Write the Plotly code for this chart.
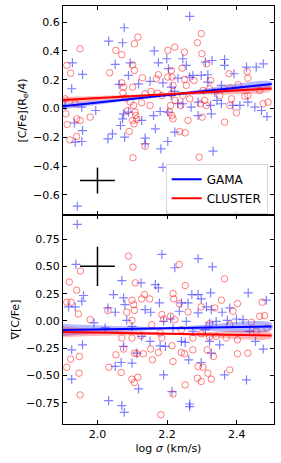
import plotly.graph_objects as go
from plotly.subplots import make_subplots

# ---------------- data ----------------
top_gama_x = [2.077, 2.032, 2.072, 2.051, 2.163, 2.199, 1.928, 1.957, 1.926, 2.094, 2.089, 2.062, 2.118, 2.151,
              2.175, 2.188, 2.204, 1.907, 1.955, 1.995, 2.075, 2.072, 2.066, 2.089, 2.127, 2.161, 2.180, 2.202,
              2.166, 1.934, 1.957, 1.936, 1.955, 2.030, 2.043, 2.078, 2.137, 2.137, 2.182, 2.202, 2.188, 1.942,
              2.265, 2.245, 2.310, 2.329, 2.365, 2.365, 2.428, 2.456, 2.476, 2.255, 2.274, 2.298, 2.317, 2.392,
              2.231, 2.265, 2.317, 2.356, 2.212, 2.222, 2.337, 2.231, 2.245, 2.289, 2.343, 2.212, 2.269, 2.325,
              2.389, 2.409, 2.432, 2.356, 2.289, 2.327, 2.452, 2.471, 2.487, 2.222, 2.332]
top_gama_y = [0.560, 0.467, 0.456, 0.306, 0.400, 0.345, 0.317, 0.236, 0.137, 0.317, 0.229, 0.167, 0.171, 0.188,
              0.317, 0.178, 0.276, 0.021, 0.009, -0.014, -0.037, -0.072, -0.118, -0.025, -0.083, -0.049, -0.021, -0.025,
              -0.141, -0.100, -0.153, -0.234, -0.229, -0.211, -0.176, -0.199, -0.206, -0.245, -0.280, -0.229, -0.408, -0.678,
              0.639, 0.345, 0.322, 0.333, 0.340, 0.299, 0.287, 0.287, 0.310, 0.299, 0.229, 0.229, 0.234, 0.241,
              0.210, 0.218, 0.183, 0.160, 0.148, 0.118, 0.109, 0.033, 0.033, 0.044, 0.056, 0.090, 0.009, 0.021,
              0.021, 0.021, 0.044, 0.033, -0.049, -0.037, 0.009, -0.014, -0.056, -0.164, -0.296]

top_clus_x = [2.116, 2.106, 1.950, 2.053, 2.070, 1.912, 1.923, 2.035, 2.101, 2.106, 2.129, 2.175, 2.169, 2.202,
              2.202, 2.070, 2.075, 2.101, 2.073, 2.137, 2.154, 2.173, 2.185, 1.907, 1.936, 2.082, 2.094, 2.104,
              2.127, 2.151, 2.087, 2.108, 2.110, 2.113, 2.101, 2.105, 1.909, 1.940, 1.950, 1.979, 1.913, 1.921,
              1.940, 2.091, 2.137, 2.102,
              2.298, 2.287, 2.222, 2.250, 2.300, 2.313, 2.243, 2.212, 2.430, 2.378, 2.432, 2.214, 2.250, 2.277,
              2.325, 2.404, 2.217, 2.255, 2.380, 2.466, 2.212, 2.245, 2.303, 2.322, 2.351, 2.432, 2.223, 2.265,
              2.308, 2.385, 2.423, 2.210, 2.239, 2.296, 2.313, 2.380, 2.399, 2.490, 2.476, 2.207, 2.214, 2.217,
              2.260, 2.301, 2.365, 2.236, 2.252, 2.292]
top_clus_y = [0.495, 0.449, 0.414, 0.403, 0.373, 0.299, 0.245, 0.248, 0.303, 0.264, 0.213, 0.234, 0.206, 0.403,
              0.218, 0.178, 0.148, 0.148, 0.109, 0.102, 0.118, 0.106, 0.090, 0.067, 0.033, 0.072, 0.044, 0.021,
              0.040, 0.021, -0.014, -0.025, -0.049, -0.076, -0.083, -0.107, -0.037, -0.072, -0.083, -0.060, -0.111, -0.218,
              -0.194, -0.160, -0.262, -0.342,
              0.519, 0.456, 0.426, 0.391, 0.380, 0.310, 0.280, 0.264, 0.257, 0.241, 0.210, 0.218, 0.201, 0.194,
              0.194, 0.165, 0.160, 0.160, 0.144, 0.125, 0.102, 0.090, 0.125, 0.137, 0.090, 0.090, 0.056, 0.067,
              0.056, 0.067, 0.085, 0.021, 0.021, 0.033, 0.021, 0.021, -0.030, 0.044, 0.033, -0.025, -0.049, -0.072,
              -0.083, -0.060, -0.095, -0.160, -0.169, -0.338]

bot_gama_x = [1.942, 1.938, 2.185, 2.070, 2.125, 2.166, 2.175, 2.046, 1.960, 2.075, 1.955, 1.917, 1.936, 2.030,
              2.051, 2.079, 2.137, 2.178, 2.153, 2.084, 1.990, 2.022, 2.099, 2.127, 2.190, 2.151, 2.180, 2.195,
              1.926, 1.957, 2.075, 2.113, 2.068, 2.099, 2.051, 1.926, 2.190, 2.118, 2.032, 2.070, 2.077,
              2.289, 2.222, 2.330, 2.433, 2.485, 2.271, 2.289, 2.298, 2.325, 2.241, 2.260, 2.313, 2.327, 2.380,
              2.235, 2.289, 2.358, 2.399, 2.418, 2.210, 2.255, 2.322, 2.341, 2.373, 2.217, 2.274, 2.310, 2.241,
              2.252, 2.322, 2.351, 2.454, 2.476, 2.437, 2.262, 2.327, 2.298, 2.365, 2.428, 2.214, 2.265, 2.265]
bot_gama_y = [0.885, 0.518, 0.610, 0.370, 0.349, 0.333, 0.303, 0.242, 0.233, 0.211, 0.181, 0.129, 0.129, 0.119,
              0.080, 0.150, 0.104, 0.165, 0.080, 0.006, -0.018, -0.064, -0.049, -0.141, -0.003, -0.187, -0.227, -0.233,
              -0.264, -0.218, -0.233, -0.294, -0.380, -0.386, -0.416, -0.533, -0.493, -0.622, -0.729, -0.775, -0.836,
              0.570, 0.487, 0.496, 0.257, 0.190, 0.242, 0.242, 0.202, 0.257, 0.165, 0.165, 0.129, 0.104, 0.119,
              0.089, 0.074, 0.080, 0.018, 0.012, 0.018, -0.003, -0.018, -0.003, 0.006, -0.064, -0.095, -0.080, -0.187,
              -0.196, -0.187, -0.218, -0.187, -0.257, -0.095, -0.356, -0.294, -0.380, -0.493, -0.539, -0.646, -0.760, -0.784]

bot_clus_x = [2.089, 2.102, 1.951, 1.919, 2.109, 1.940, 2.135, 2.127, 2.150, 2.099, 1.912, 1.924, 2.104, 2.084,
              2.106, 2.030, 1.945, 1.979, 2.099, 2.156, 2.185, 2.190, 2.180, 2.185, 2.070, 2.099, 2.125, 2.075,
              2.106, 2.113, 2.132, 2.153, 2.158, 2.175, 2.053, 1.948, 1.923, 1.912, 2.033, 2.068, 1.947, 2.116,
              2.099, 2.106, 1.950, 2.182,
              2.235, 2.365, 2.252, 2.217, 2.356, 2.219, 2.402, 2.473, 2.235, 2.298, 2.337, 2.260, 2.389, 2.466,
              2.480, 2.442, 2.487, 2.210, 2.222, 2.322, 2.380, 2.241, 2.298, 2.322, 2.341, 2.370, 2.402, 2.456,
              2.274, 2.214, 2.241, 2.274, 2.315, 2.333, 2.402, 2.432, 2.250, 2.217, 2.289, 2.303, 2.380, 2.317,
              2.287, 2.298, 2.327, 2.252, 2.217]
bot_clus_y = [0.594, 0.493, 0.457, 0.356, 0.349, 0.282, 0.242, 0.202, 0.202, 0.190, 0.172, 0.172, 0.150, 0.080,
              0.098, 0.095, 0.064, 0.012, 0.006, -0.034, 0.058, 0.018, -0.110, -0.156, -0.156, -0.156, -0.135, -0.257,
              -0.294, -0.300, -0.300, -0.257, -0.356, -0.288, -0.310, -0.325, -0.349, -0.423, -0.423, -0.472, -0.478, -0.515,
              -0.533, -0.564, -0.677, -0.858,
              0.518, 0.386, 0.324, 0.251, 0.190, 0.202, 0.159, 0.172, 0.159, 0.129, 0.119, 0.083, 0.089, 0.043,
              0.049, -0.012, -0.064, 0.043, 0.012, -0.025, -0.034, -0.080, -0.117, -0.147, -0.141, -0.156, -0.172, -0.095,
              -0.156, -0.227, -0.288, -0.264, -0.264, -0.325, -0.300, -0.294, -0.300, -0.371, -0.416, -0.423, -0.448, -0.478,
              -0.524, -0.554, -0.533, -0.585, -0.668]

# linear fits (value at the fit x points) and confidence half-widths
fit_x = [1.90, 2.20, 2.50]
top_gama_fit = [0.015, 0.092, 0.170]
top_gama_err = [0.020, 0.008, 0.015]
top_clus_fit = [0.058, 0.098, 0.138]
top_clus_err = [0.022, 0.008, 0.014]
bot_gama_fit = [-0.082, -0.066, -0.050]
bot_gama_err = [0.055, 0.012, 0.030]
bot_clus_fit = [-0.101, -0.117, -0.133]
bot_clus_err = [0.048, 0.010, 0.022]

# typical error crosses: x, y, err_x, err_y
top_cross = [2.0, -0.5, 0.05, 0.09]
bot_cross = [2.0, 0.5, 0.05, 0.18]

BLUE = "#0000ff"
RED = "#ff0000"
BLUE_PT = "rgba(0,0,255,0.5)"
RED_PT = "rgba(255,0,0,0.5)"
BLUE_BAND = "rgba(0,0,255,0.28)"
RED_BAND = "rgba(255,0,0,0.28)"

fig = make_subplots(rows=2, cols=1, shared_xaxes=True, vertical_spacing=0.0)


def add_panel(row, gx, gy, cx, cy, gfit, gerr, cfit, cerr, cross, legend):
    fig.add_trace(go.Scatter(x=gx, y=gy, mode="markers", showlegend=False,
                             marker=dict(symbol="cross-thin-open", size=6.5, color=BLUE_PT,
                                         line=dict(width=1.2, color=BLUE_PT))), row=row, col=1)
    fig.add_trace(go.Scatter(x=cx, y=cy, mode="markers", showlegend=False,
                             marker=dict(symbol="circle-open", size=6.5, color=RED_PT,
                                         line=dict(width=1, color=RED_PT))), row=row, col=1)
    for fit, err, band in ((gfit, gerr, BLUE_BAND), (cfit, cerr, RED_BAND)):
        up = [f + e for f, e in zip(fit, err)]
        lo = [f - e for f, e in zip(fit, err)]
        fig.add_trace(go.Scatter(x=fit_x + fit_x[::-1], y=up + lo[::-1], mode="lines",
                                 fill="toself", fillcolor=band, line=dict(width=0),
                                 line_shape="spline", showlegend=False, hoverinfo="skip"),
                      row=row, col=1)
    fig.add_trace(go.Scatter(x=fit_x, y=gfit, mode="lines", name="GAMA",
                             line=dict(color=BLUE, width=2), showlegend=legend), row=row, col=1)
    fig.add_trace(go.Scatter(x=fit_x, y=cfit, mode="lines", name="CLUSTER",
                             line=dict(color=RED, width=2), showlegend=legend), row=row, col=1)
    fig.add_trace(go.Scatter(x=[cross[0]], y=[cross[1]], mode="markers", showlegend=False,
                             marker=dict(size=1, color="black"),
                             error_x=dict(type="data", array=[cross[2]], width=0, thickness=1.5, color="black"),
                             error_y=dict(type="data", array=[cross[3]], width=0, thickness=1.5, color="black")),
                  row=row, col=1)


add_panel(1, top_gama_x, top_gama_y, top_clus_x, top_clus_y, top_gama_fit, top_gama_err,
          top_clus_fit, top_clus_err, top_cross, True)
add_panel(2, bot_gama_x, bot_gama_y, bot_clus_x, bot_clus_y, bot_gama_fit, bot_gama_err,
          bot_clus_fit, bot_clus_err, bot_cross, False)

axis_common = dict(showline=True, linecolor="black", linewidth=1, mirror="ticks", ticks="inside",
                   ticklen=4, tickcolor="black", showgrid=False, zeroline=False,
                   tickfont=dict(size=11, color="black"))

fig.update_xaxes(**axis_common, range=[1.901, 2.507], tickvals=[2.0, 2.2, 2.4], tickformat=".1f")
fig.update_xaxes(title=dict(text="log <i>σ</i> (km/s)", font=dict(size=11, color="black"), standoff=4),
                 row=2, col=1)
fig.update_yaxes(**axis_common)
fig.update_yaxes(range=[-0.739, 0.711], tickvals=[-0.6, -0.4, -0.2, 0.0, 0.2, 0.4, 0.6], tickformat=".1f",
                 title=dict(text="[C/Fe](R<sub>e</sub>/4)", font=dict(size=11, color="black"), standoff=4),
                 row=1, col=1)
fig.update_yaxes(range=[-0.943, 0.97], tickvals=[-0.75, -0.5, -0.25, 0.0, 0.25, 0.5, 0.75], tickformat=".2f",
                 title=dict(text="∇[C/Fe]", font=dict(size=11, color="black"), standoff=4),
                 row=2, col=1)
fig.update_layout(yaxis=dict(domain=[0.5, 1.0]), yaxis2=dict(domain=[0.0, 0.5]))

fig.update_layout(
    width=281, height=463,
    margin=dict(l=63, r=7, t=6, b=39),
    paper_bgcolor="white", plot_bgcolor="white",
    font=dict(family="DejaVu Sans", size=11, color="black"),
    legend=dict(x=0.97, y=0.503, xanchor="right", yanchor="bottom",
                bgcolor="rgba(255,255,255,0.85)", bordercolor="#d8d8d8", borderwidth=1,
                font=dict(size=12), itemwidth=30, tracegroupgap=0),
)

fig.write_html("out.html", config={"displayModeBar": False},
               post_script="document.body.style.margin='0';document.body.style.overflow='hidden';")
